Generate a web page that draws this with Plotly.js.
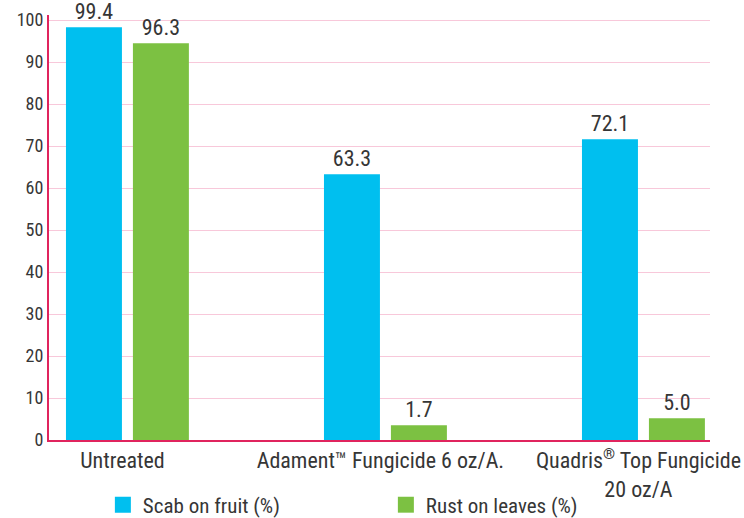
<!DOCTYPE html>
<html><head><meta charset="utf-8">
<script src="https://cdn.plot.ly/plotly-3.0.1.min.js"></script>
<style>body{margin:0;background:#fff}#c{width:744px;height:518px}</style>
</head><body><div id="c"></div>
<script>
const categories = ["Untreated", "Adament™ Fungicide 6 oz/A.", "Quadris<sup>®</sup> Top Fungicide<br>20 oz/A"];
const catPos = [0, 1, 2];
// bar heights as drawn in the picture
const scabValues = [98.3, 63.3, 71.6];
const rustValues = [94.5, 3.5, 5.2];
// printed value labels
const scabLabels = ["99.4", "63.3", "72.1"];
const rustLabels = ["96.3", "1.7", "5.0"];
const seriesNames = ["Scab on fruit (%)", "Rust on leaves (%)"];
const seriesColors = ["#00BFEF", "#7CC142"];
const yTicks = [0,10,20,30,40,50,60,70,80,90,100];

const fontFam = '"Roboto Condensed", Roboto, sans-serif';
const textCol = '#363636';

const traces = [
  {type:'bar', x: catPos, y: scabValues, name: seriesNames[0], marker:{color:seriesColors[0]},
   text: scabLabels, textposition:'outside', textfont:{family:fontFam, size:22, color:textCol},
   cliponaxis:false, hoverinfo:'none', showlegend:false},
  {type:'bar', x: catPos, y: rustValues, name: seriesNames[1], marker:{color:seriesColors[1]},
   text: rustLabels, textposition:'outside', textfont:{family:fontFam, size:22, color:textCol},
   cliponaxis:false, hoverinfo:'none', showlegend:false},
  // legend entries for the two bar series
  {type:'scatter', mode:'markers', x:[null], y:[null], name: seriesNames[0],
   marker:{symbol:'square', size:19, color:seriesColors[0]}, showlegend:true, hoverinfo:'none'},
  {type:'scatter', mode:'markers', x:[null], y:[null], name: seriesNames[1],
   marker:{symbol:'square', size:19, color:seriesColors[1]}, showlegend:true, hoverinfo:'none'}
];

const layout = {
  width:744, height:518,
  margin:{l:49, r:34, t:15, b:78, autoexpand:false},
  paper_bgcolor:'#fff', plot_bgcolor:'#fff',
  barmode:'group', bargap:0.481, bargroupgap:0.164,
  font:{family: fontFam, size:18, color:textCol},
  xaxis:{range:[-0.304, 2.258], tickmode:'array', tickvals:catPos, ticktext:categories,
         showgrid:false, zeroline:false, showline:true, linecolor:'#E0245E', linewidth:2,
         ticks:'', tickangle:0, ticklabeloverflow:'allow', ticklabelshift:-5,
         tickfont:{family:fontFam, size:22, color:textCol}, fixedrange:true},
  yaxis:{range:[0, 101.2], tickmode:'array', tickvals:yTicks, showgrid:true,
         gridcolor:'#F8C8DA', gridwidth:1, zeroline:false, showline:true,
         linecolor:'#E0245E', linewidth:2, ticks:'',
         tickfont:{family:fontFam, size:18, color:textCol}, fixedrange:true},
  showlegend:true,
  legend:{orientation:'h', x:0.0815, xanchor:'left', y:-0.153, yanchor:'middle',
          entrywidth:238, entrywidthmode:'pixels', itemsizing:'trace',
          font:{family:fontFam, size:21, color:textCol}, bgcolor:'rgba(0,0,0,0)'},
};
Plotly.newPlot('c', traces, layout, {displayModeBar:false, staticPlot:true});
</script></body></html>
